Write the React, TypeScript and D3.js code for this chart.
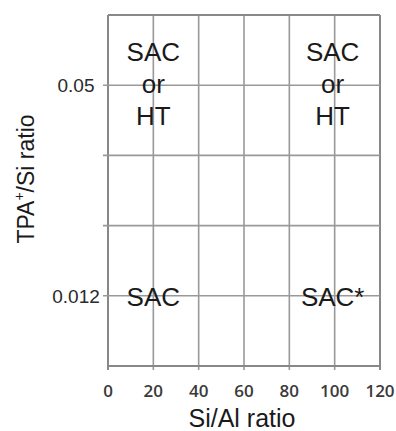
import React from "react";
import * as d3 from "d3";

// Si/Al ratio axis
const xTickValues = [0, 20, 40, 60, 80, 100, 120];
// TPA+/Si ratio rows, top to bottom; empty entries are unlabeled grid rows
const yRows = ["", "0.05", "", "", "0.012", ""];

// Regime labels placed at (Si/Al ratio, TPA+/Si row label)
const regionX = [20, 100, 20, 100];
const regionRow = ["0.05", "0.05", "0.012", "0.012"];
const regionText = [["SAC", "or", "HT"], ["SAC", "or", "HT"], ["SAC"], ["SAC*"]];

const W = 396;
const H = 431;
const margin = { left: 108, right: 16, top: 15, bottom: 65 };

export default function App() {
  const x = d3
    .scaleLinear()
    .domain([0, 120])
    .range([margin.left, W - margin.right]);
  const rowIdx = d3.range(yRows.length);
  const y = d3
    .scaleLinear()
    .domain([0, yRows.length - 1])
    .range([margin.top, H - margin.bottom]);
  const rowY = (label: string) => y(yRows.indexOf(label));

  const x0 = x(0);
  const x1 = x(120);
  const y0 = y(0);
  const y1 = y(yRows.length - 1);
  const gridColor = "#999";
  const frameColor = "#888";
  const lineH = 32;

  return (
    <svg
      width={W}
      height={H}
      style={{ position: "absolute", left: 0, top: 0, background: "#fff" }}
      fontFamily="'Liberation Sans', Arial, sans-serif"
    >
      {/* vertical grid lines with bottom ticks */}
      {xTickValues.map((v) => (
        <line
          key={"vx" + v}
          x1={x(v)}
          x2={x(v)}
          y1={y0}
          y2={y1 + 4}
          stroke={v === 0 || v === 120 ? frameColor : gridColor}
          strokeWidth={v === 0 || v === 120 ? 2 : 1.6}
        />
      ))}
      {/* horizontal grid lines; interior rows carry a left tick */}
      {rowIdx.map((i) => {
        const edge = i === 0 || i === yRows.length - 1;
        return (
          <line
            key={"hy" + i}
            x1={edge ? x0 : x0 - 5}
            x2={x1}
            y1={y(i)}
            y2={y(i)}
            stroke={edge ? frameColor : gridColor}
            strokeWidth={edge ? 2 : 1.6}
          />
        );
      })}

      {/* x tick labels */}
      {xTickValues.map((v) => (
        <text
          key={"tx" + v}
          x={x(v)}
          y={y1 + 31}
          textAnchor="middle"
          fontFamily="'Open Sans', 'DejaVu Sans', sans-serif"
          fontSize={17}
          fontWeight={600}
          fill="#3a3a3a"
        >
          {v}
        </text>
      ))}
      {/* y tick labels */}
      {rowIdx
        .filter((i) => yRows[i] !== "")
        .map((i) => (
          <text
            key={"ty" + i}
            x={x0 - 32}
            y={y(i) + 7}
            textAnchor="middle"
            fontSize={19}
            fill="#2a2a2a"
          >
            {yRows[i]}
          </text>
        ))}

      {/* regime labels */}
      {regionText.map((lines, k) => {
        const cx = x(regionX[k]) - (regionX[k] === 100 ? 2 : 0);
        const cy = rowY(regionRow[k]);
        return (
          <text
            key={"r" + k}
            textAnchor="middle"
            fontSize={26}
            fill="#1a1a1a"
          >
            {lines.map((t, i) => (
              <tspan
                key={i}
                x={cx}
                y={cy + 8 + (i - (lines.length - 1) / 2) * lineH + (lines.length === 1 ? 2 : 0)}
              >
                {t}
              </tspan>
            ))}
          </text>
        );
      })}

      {/* axis titles */}
      <text
        x={(x0 + x1) / 2 - 2}
        y={427}
        textAnchor="middle"
        fontSize={25}
        fill="#1a1a1a"
      >
        Si/Al ratio
      </text>
      <text
        transform={`translate(34, 179) rotate(-90)`}
        textAnchor="middle"
        fontSize={23}
        fill="#1a1a1a"
      >
        TPA
        <tspan fontSize={14} dy={-10}>
          +
        </tspan>
        <tspan dy={10}>/Si ratio</tspan>
      </text>
    </svg>
  );
}
